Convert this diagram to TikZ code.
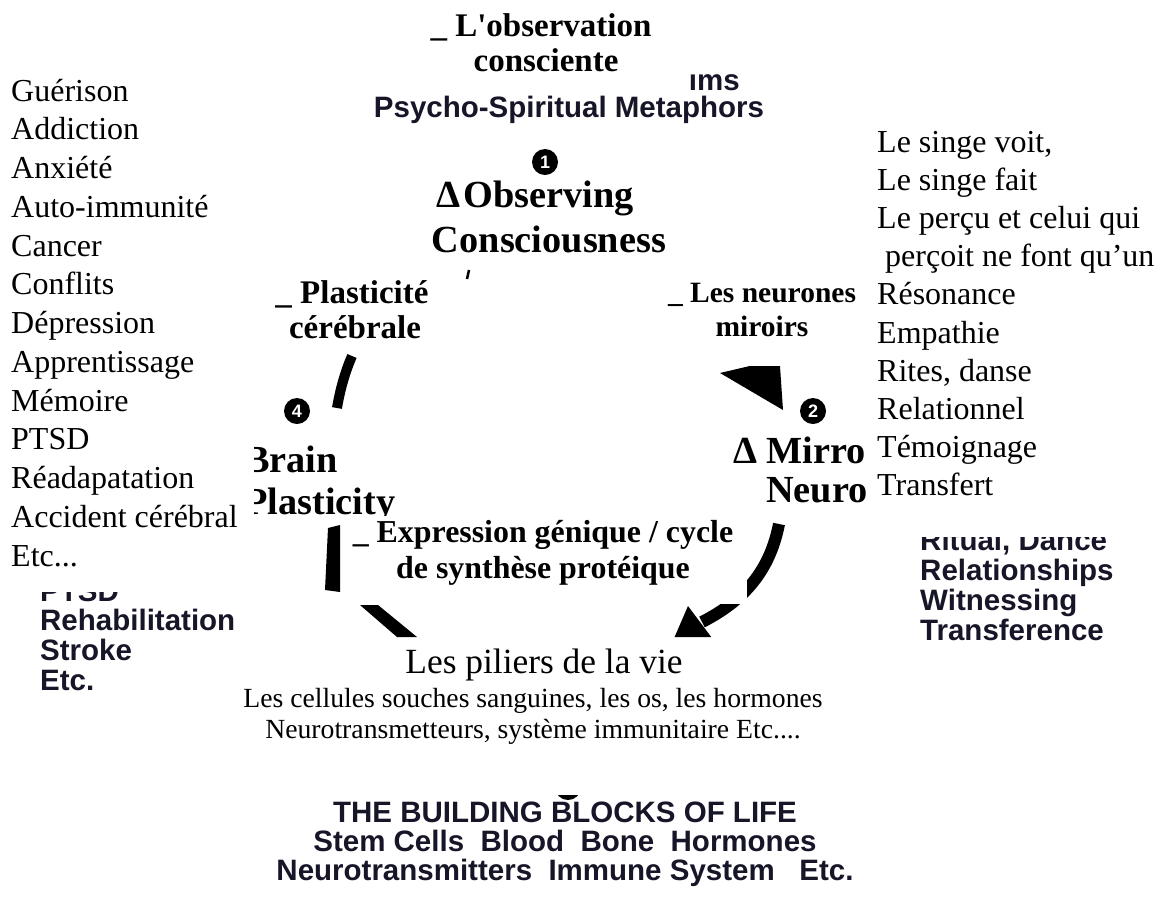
\documentclass[tikz,border=0pt]{standalone}
\usepackage{fontspec}
\setmainfont{Liberation Serif}[Ligatures=TeXOff]
\newfontfamily\arialf{Liberation Sans}
\definecolor{navy}{RGB}{22,22,40}
\tikzset{
 fr/.style={inner sep=0, font=\fontsize{32}{38}\selectfont},
 frs/.style={inner sep=0, font=\fontsize{27.7}{32}\selectfont},
 frb/.style={inner sep=0, font=\fontsize{35.4}{40}\selectfont},
 bl/.style={inner sep=0, font=\fontsize{33}{38}\selectfont\bfseries},
 blm/.style={inner sep=0, font=\fontsize{29.5}{34}\selectfont\bfseries},
 big/.style={inner sep=0, font=\fontsize{38.3}{44}\selectfont\bfseries},
 exf/.style={inner sep=0, font=\fontsize{31.9}{37}\selectfont\bfseries},
 en/.style={inner sep=0, text=navy, font=\arialf\bfseries\fontsize{29.5}{34}\selectfont},
 num/.style={circle, fill=black, minimum size=26pt, inner sep=0, text=white, font=\arialf\bfseries\fontsize{18}{18}\selectfont},
}
\begin{document}
\begin{tikzpicture}[x=1pt,y=-1pt]
\useasboundingbox (0,0) rectangle (1157,914);
\fill[white] (0,0) rectangle (1157,914);

% ---------- left French list
\foreach \t [count=\i] in {Guérison,Addiction,Anxiété,Auto-immunité,Cancer,Conflits,Dépression,Apprentissage,Mémoire,PTSD,Réadapatation,Accident cérébral}
  \node[fr, anchor=base west] (L\i) at (11,{101+(\i-1)*38.75}) {\t};
\node[fr, anchor=base west] (L13) at (11,566) {Etc...};

% ---------- right French list
\foreach \t [count=\i] in {{Le singe voit,},Le singe fait,Le perçu et celui qui,{\ perçoit ne font qu’un},Résonance,Empathie,{Rites, danse},Relationnel,Témoignage,Transfert}
  \node[fr, anchor=base west] (R\i) at (877,{152+(\i-1)*38.2}) {\t};

% ---------- left English remnants
\begin{scope}
  \clip (20,592) rectangle (260,720);
  \node[en, anchor=base west] (ePTSD) at (40,601) {PTSD};
\end{scope}
\node[en, anchor=base west] (eReh) at (40,630) {Rehabilitation};
\node[en, anchor=base west] (eStr) at (40,660) {Stroke};
\node[en, anchor=base west] (eEtc) at (40,690) {Etc.};

% ---------- right English remnants
\begin{scope}
  \clip (900,537) rectangle (1157,660);
  \node[en, anchor=base west] (eRit) at (920,550) {Ritual, Dance};
\end{scope}
\node[en, anchor=base west] (eRel) at (920,580) {Relationships};
\node[en, anchor=base west] (eWit) at (920,610) {Witnessing};
\node[en, anchor=base west] (eTra) at (920,640) {Transference};

% ---------- top
\node[bl, anchor=base] (obs1) at (541,36) {\_ L'observation};
\node[bl, anchor=base] (obs2) at (546,71) {consciente};
\begin{scope}
  \clip (380,72) rectangle (800,97);
  \node[en, anchor=base east] (ims) at (740,90) {ıms};
\end{scope}
\node[en, anchor=base] (psy) at (569,117) {Psycho-Spiritual Metaphors};
\node[num] (c1) at (545,162) {1};
\node[big, anchor=base] (oc1) at (535,207) {Δ\hspace{3pt}Observing};
\node[big, anchor=base] (oc2) at (549,252) {Consciousness};
\draw[line width=2.5pt] (469,270) -- (467,279);

% ---------- plasticity label
\node[bl, anchor=base] (pl1) at (352,303) {\_ Plasticité};
\node[bl, anchor=base] (pl2) at (355,338) {cérébrale};
% ---------- neurones label
\node[blm, anchor=base] (nm1) at (762,302) {\_ Les neurones};
\node[blm, anchor=base] (nm2) at (762,336) {miroirs};

% ---------- arcs
\draw[line width=10pt] (352,356) .. controls (345,372) and (340,390) .. (337,408);
\begin{scope}
  \clip (700,366) rectangle (800,420);
  \fill (720,373) -- (779.5,359) -- (783,410) -- cycle;
\end{scope}
\fill (328,528) -- (340,525) -- (340,592) -- (325,590) -- cycle;
\fill (360,605) -- (378,605) -- (417,637) -- (397,637) -- cycle;
\begin{scope}
  \clip (747,520) -- (800,520) -- (800,637) -- (650,637) -- (650,604) -- (747,604) -- cycle;
  \draw[line width=12pt] (779,524) .. controls (770,570) and (745,600) .. (702,622);
  \fill (688,606) -- (672,643) -- (712,638) -- cycle;
\end{scope}

% ---------- numbered circles
\node[num] (c4) at (297,411) {4};
\node[num] (c2) at (813,411) {2};
\begin{scope}
  \clip (540,795) rectangle (600,812);
  \fill (568,787) circle (13);
\end{scope}

% ---------- Brain plasticity
\begin{scope}
  \clip (254,430) rectangle (420,515);
  \node[big, anchor=base west] (brain) at (244,472) {Brain};
  \node[big, anchor=base west] (plast) at (244,514) {Plasticity};
\end{scope}
% ---------- Mirror neurons
\begin{scope}
  \clip (700,420) rectangle (866,520);
  \node[big, anchor=base west] (mirror) at (733,463) {Δ Mirror};
  \node[big, anchor=base west] (neuro) at (766,502) {Neuron};
\end{scope}

% ---------- gene expression
\node[exf, anchor=base] (ex1) at (543,542) {\_ Expression génique / cycle};
\node[exf, anchor=base] (ex2) at (543,578) {de synthèse protéique};

% ---------- piliers
\node[frb, anchor=base] (pil) at (544,673) {Les piliers de la vie};
\node[frs, anchor=base] (pil2) at (533,707) {Les cellules souches sanguines, les os, les hormones};
\node[frs, anchor=base] (pil3) at (533,738) {Neurotransmetteurs, système immunitaire Etc....};

% ---------- building blocks
\node[en, anchor=base] (bb1) at (565,822) {THE BUILDING BLOCKS OF LIFE};
\node[en, anchor=base] (bb2) at (565,851) {Stem Cells\ \ Blood\ \ Bone\ \ Hormones};
\node[en, anchor=base] (bb3) at (565,880) {Neurotransmitters\ \ Immune System\ \ \ Etc.};
\end{tikzpicture}
\end{document}
